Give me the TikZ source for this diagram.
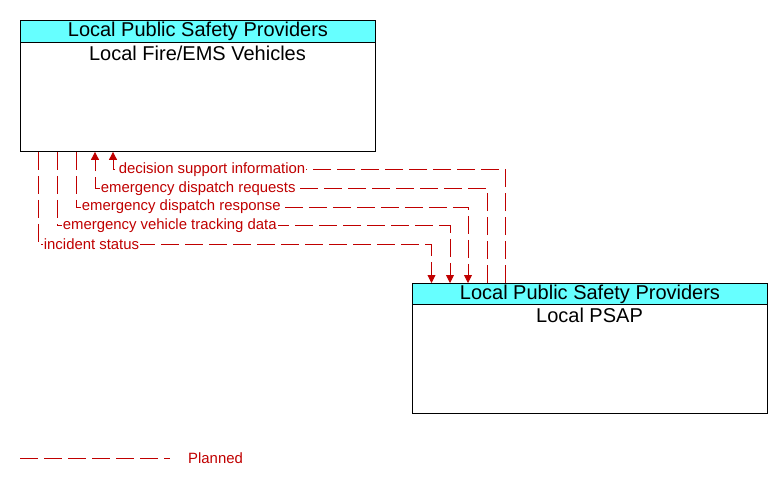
\documentclass[tikz,border=0pt]{standalone}
\usepackage{fontspec}
\setmainfont{Liberation Sans}
\usetikzlibrary{arrows.meta,calc}
\definecolor{flowred}{RGB}{192,0,0}
\definecolor{hdrcyan}{RGB}{102,255,255}
\begin{document}
\begin{tikzpicture}[x=1pt,y=-1pt,
  box/.style={draw=black,line width=0.9pt,minimum width=355pt,minimum height=131pt,anchor=north west,inner sep=0pt},
  hdr/.style={draw=black,fill=hdrcyan,line width=0.9pt,minimum width=355pt,minimum height=22pt,anchor=north west,inner sep=0pt,font=\fontsize{20}{21}\selectfont},
  ttl/.style={anchor=north,inner sep=0pt,font=\fontsize{20}{21}\selectfont},
  flow/.style={draw=flowred,line width=0.9pt,dash pattern=on 18pt off 6pt},
  tip/.style={-{Triangle[width=8pt,length=8pt]}},
  flab/.style={anchor=west,fill=white,inner sep=1.2pt,text=flowred,font=\fontsize{14.9}{15}\selectfont},
]
\useasboundingbox (0,0) rectangle (782,485);
% boxes
\node[box] (fire) at (20,20) {};
\node[hdr] (fireh) at (20,20) {Local Public Safety Providers};
\node[ttl] (firet) at (197.5,45.5) {Local Fire/EMS Vehicles};
\node[box,minimum height=130pt] (psap) at (412,283) {};
\node[hdr,minimum height=21pt] (psaph) at (412,283) {Local Public Safety Providers};
\node[ttl] (psapt) at (589.5,307.5) {Local PSAP};
% anchors on boxes
\coordinate (f1) at ([xshift=18pt]fire.south west);
\coordinate (f2) at ([xshift=37pt]fire.south west);
\coordinate (f3) at ([xshift=56pt]fire.south west);
\coordinate (f4) at ([xshift=75pt]fire.south west);
\coordinate (f5) at ([xshift=93pt]fire.south west);
\coordinate (p1) at ([xshift=19.5pt]psap.north west);
\coordinate (p2) at ([xshift=38pt]psap.north west);
\coordinate (p3) at ([xshift=56pt]psap.north west);
\coordinate (p4) at ([xshift=75pt]psap.north west);
\coordinate (p5) at ([xshift=93.5pt]psap.north west);
% flows fire -> psap
\draw[flow,tip] (f1) -- (f1 |- 0,244.5) -- (p1 |- 0,244.5) -- (p1);
\draw[flow,tip] (f2) -- (f2 |- 0,225.5) -- (p2 |- 0,225.5) -- (p2);
\draw[flow,tip] (f3) -- (f3 |- 0,207) -- (p3 |- 0,207) -- (p3);
% flows psap -> fire
\draw[flow,tip] (p4) -- (p4 |- 0,188.5) -- (f4 |- 0,188.5) -- (f4);
\draw[flow,tip] (p5) -- (p5 |- 0,169.5) -- (f5 |- 0,169.5) -- (f5);
% labels
\node[flab] (l1) at ([xshift=4.5pt]f1 |- 0,244.5) {incident status};
\node[flab] (l2) at ([xshift=4.5pt]f2 |- 0,225.5) {emergency vehicle tracking data};
\node[flab] (l3) at ([xshift=4.5pt]f3 |- 0,207) {emergency dispatch response};
\node[flab] (l4) at ([xshift=4.5pt]f4 |- 0,188.5) {emergency dispatch requests};
\node[flab] (l5) at ([xshift=4.5pt]f5 |- 0,169.5) {decision support information};
% legend
\coordinate (lg1) at (20,458);
\coordinate (lg2) at (170,458);
\draw[flow] (lg1) -- (lg2);
\node[anchor=west,inner sep=0pt,text=flowred,font=\fontsize{14.9}{15}\selectfont] (lgt) at (188,458) {Planned};
\end{tikzpicture}
\end{document}
